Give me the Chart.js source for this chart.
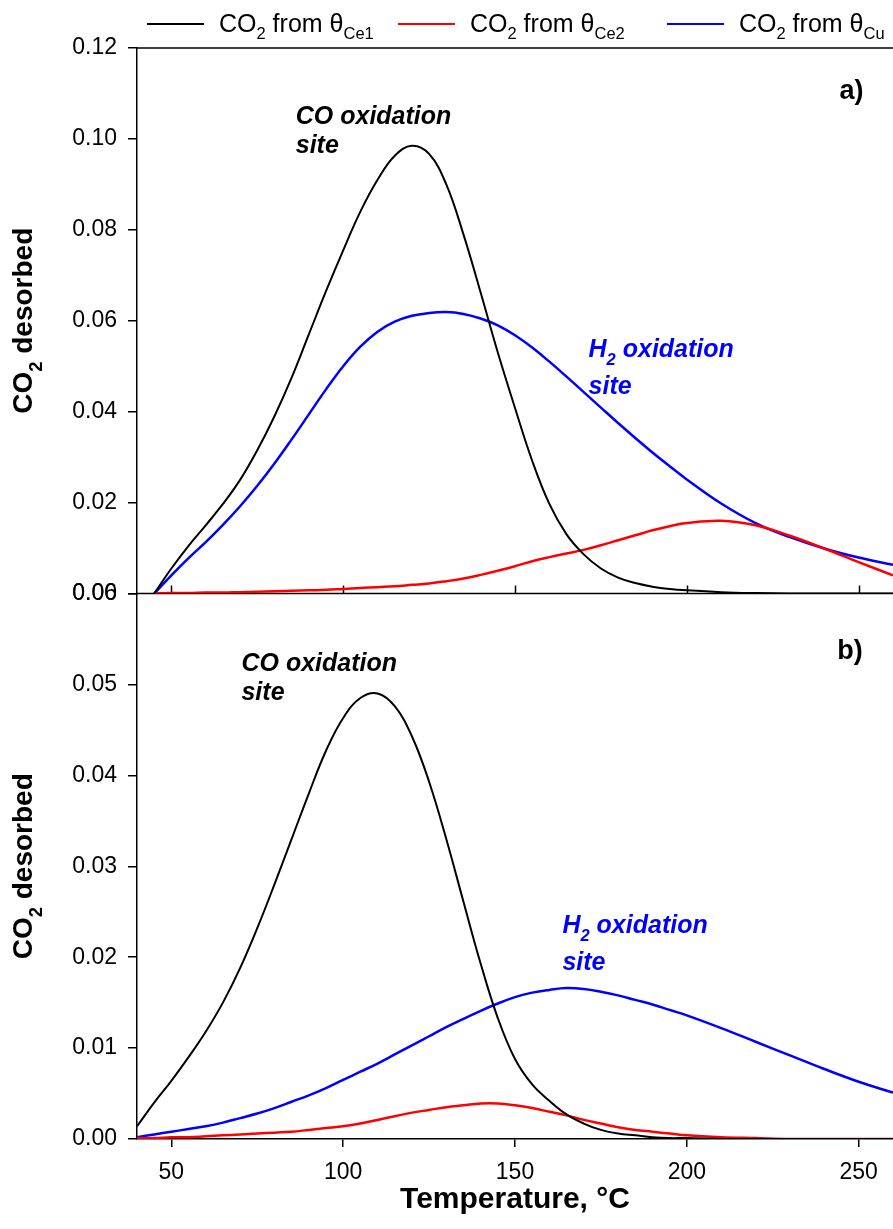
<!DOCTYPE html>
<html>
<head>
<meta charset="utf-8">
<title>CO2 desorption</title>
<script src="https://cdn.jsdelivr.net/npm/chart.js@4/dist/chart.umd.min.js"></script>
<style>
  html, body { margin: 0; padding: 0; background: #fff; }
  #wrap { width: 893px; height: 1229px; overflow: hidden; }
</style>
</head>
<body>
<div id="wrap"><canvas id="tpd" width="893" height="1229"></canvas></div>
<script>
// temperature grid, °C
const temps = [40, 45, 50, 55, 60, 65, 70, 75, 80, 85, 90, 95, 100, 105, 110, 115, 120, 125, 130, 135,
  140, 145, 150, 155, 160, 165, 170, 175, 180, 185, 190, 195, 200, 210, 220, 230, 240, 250, 260];

// panel a)
const ce1A = [null, 0, 0.0055, 0.0105, 0.0150, 0.0197, 0.0250, 0.0315, 0.0390, 0.0475, 0.0570, 0.0665, 0.0755,
  0.0840, 0.0910, 0.0963, 0.0985, 0.0967, 0.0900, 0.0790, 0.0662, 0.0530, 0.0408, 0.0292, 0.0197, 0.0130,
  0.0086, 0.0055, 0.0035, 0.0023, 0.0015, 0.0010, 0.0007, 0.0003, 0.0001, 0, 0, 0, 0];
const ce2A = [null, 0, 0.0001, 0.0001, 0.0002, 0.0002, 0.0003, 0.0004, 0.0005, 0.0006, 0.0007, 0.0008, 0.0010,
  0.0012, 0.0014, 0.0016, 0.0019, 0.0022, 0.0027, 0.0033, 0.0041, 0.0050, 0.0060, 0.0071, 0.0080, 0.0088,
  0.0096, 0.0106, 0.0117, 0.0128, 0.0139, 0.0148, 0.0155, 0.0160, 0.0150, 0.0127, 0.0099, 0.0069, 0.0040];
const cuA = [null, 0, 0.0040, 0.0078, 0.0113, 0.0151, 0.0192, 0.0237, 0.0286, 0.0339, 0.0394, 0.0449, 0.0500,
  0.0543, 0.0576, 0.0598, 0.0611, 0.0617, 0.0619, 0.0615, 0.0605, 0.0590, 0.0568, 0.0541, 0.0510, 0.0477,
  0.0443, 0.0409, 0.0375, 0.0342, 0.0310, 0.0280, 0.0251, 0.0198, 0.0155, 0.0124, 0.0099, 0.0079, 0.0063];

// panel b)
const ce1B = [0.0014, 0.0040, 0.0064, 0.0090, 0.0118, 0.0150, 0.0188, 0.0232, 0.0280, 0.0330, 0.0380, 0.0427,
  0.0463, 0.0485, 0.0490, 0.0476, 0.0443, 0.0393, 0.0330, 0.0261, 0.0193, 0.0133, 0.0088, 0.0060, 0.0042,
  0.0027, 0.0017, 0.0010, 0.0006, 0.0004, 0.0002, 0.0001, 0.0001, 0, 0, 0, 0, 0, 0];
const ce2B = [0.0001, 0.0001, 0.0002, 0.0002, 0.0003, 0.0004, 0.0005, 0.0006, 0.0007, 0.0008, 0.0010, 0.0012,
  0.0014, 0.0017, 0.0021, 0.0025, 0.0029, 0.0032, 0.0035, 0.0037, 0.0039, 0.0039, 0.0037, 0.0034, 0.0030,
  0.0026, 0.0021, 0.0017, 0.0013, 0.0010, 0.0008, 0.0006, 0.0004, 0.0002, 0.0001, 0, 0, 0, 0];
const cuB = [0.0002, 0.0005, 0.0008, 0.0011, 0.0014, 0.0018, 0.0023, 0.0028, 0.0034, 0.0041, 0.0048, 0.0056,
  0.0065, 0.0074, 0.0083, 0.0093, 0.0103, 0.0113, 0.0123, 0.0132, 0.0141, 0.0149, 0.0156, 0.0161, 0.0164,
  0.0166, 0.0165, 0.0162, 0.0158, 0.0153, 0.0148, 0.0142, 0.0136, 0.0122, 0.0107, 0.0092, 0.0077, 0.0063, 0.0051];

const siteNames = ['Ce1', 'Ce2', 'Cu'];
const xTicks = [50, 100, 150, 200, 250];
const yTicksA = [0, 0.02, 0.04, 0.06, 0.08, 0.10, 0.12];
const yTicksB = [0, 0.01, 0.02, 0.03, 0.04, 0.05, 0.06];

const FONT = '"Liberation Sans", Arial, Helvetica, sans-serif';
const colors = ['#000000', '#ff0000', '#0000ff'];

function points(ys) {
  return temps.map((t, i) => ({x: t, y: ys[i]})).filter(p => p.y !== null);
}

function line(ys, i, axis) {
  return {
    label: 'CO2 from ' + siteNames[i],
    data: points(ys),
    yAxisID: axis,
    borderColor: colors[i],
    borderWidth: i === 0 ? 2 : 2.5,
    pointRadius: 0,
    tension: 0.4,
    fill: false
  };
}

// text with subscripts: runs of [text, isSub]
function richWidth(ctx, runs, o) {
  let w = 0;
  runs.forEach(([t, sub]) => {
    ctx.font = `${o.style} ${sub ? o.size * 0.66 : o.size}px ${FONT}`;
    w += ctx.measureText(t).width;
  });
  return w;
}
function drawRich(ctx, runs, x, y, o) {
  ctx.fillStyle = o.color;
  ctx.textAlign = 'left';
  ctx.textBaseline = 'alphabetic';
  let cx = x;
  runs.forEach(([t, sub]) => {
    ctx.font = `${o.style} ${sub ? o.size * 0.66 : o.size}px ${FONT}`;
    ctx.fillText(t, cx, y + (sub ? o.size * (o.subDrop || 0.28) : 0));
    cx += ctx.measureText(t).width;
  });
}

const notes = [
  {axis: 'yA', x: 86.2, y: 0.1033, color: '#000', gap: 29, lines: [[['CO oxidation']], [['site']]]},
  {axis: 'yA', x: 171.4, y: 0.0521, color: '#0000ff', gap: 37, lines: [[['H'], ['2', true], [' oxidation']], [['site']]]},
  {axis: 'yB', x: 70.4, y: 0.0515, color: '#000', gap: 29, lines: [[['CO oxidation']], [['site']]]},
  {axis: 'yB', x: 163.8, y: 0.0227, color: '#0000ff', gap: 37, lines: [[['H'], ['2', true], [' oxidation']], [['site']]]}
];
const panelTags = [{axis: 'yA', x: 244.4, y: 0.1105, text: 'a)'}, {axis: 'yB', x: 243.8, y: 0.0536, text: 'b)'}];

const panels = {
  id: 'panels',
  beforeDatasetsDraw(chart) {
    const {ctx, chartArea: a, scales: {x, yA}} = chart;
    const yMid = yA.getPixelForValue(yA.min);
    const yTop = yA.getPixelForValue(yA.max);
    ctx.save();
    ctx.strokeStyle = '#000';
    ctx.lineWidth = 1.5;
    ctx.beginPath();
    ctx.moveTo(a.left, yTop);
    ctx.lineTo(a.right, yTop);
    ctx.moveTo(a.left, yMid);
    ctx.lineTo(a.right, yMid);
    xTicks.forEach(t => {
      const px = Math.round(x.getPixelForValue(t)) + 0.5;
      ctx.moveTo(px, yMid);
      ctx.lineTo(px, yMid - 8);
    });
    ctx.stroke();
    ctx.restore();
  },
  afterDraw(chart) {
    const {ctx, scales} = chart;
    ctx.save();

    // y titles
    const title = [['CO'], ['2', true], [' desorbed']];
    const tOpt = {style: 'bold', size: 28, color: '#000', subDrop: 0.34};
    ['yA', 'yB'].forEach(id => {
      const s = scales[id];
      const w = richWidth(ctx, title, tOpt);
      ctx.save();
      ctx.translate(32, (s.top + s.bottom) / 2);
      ctx.rotate(-Math.PI / 2);
      drawRich(ctx, title, -w / 2, 0, tOpt);
      ctx.restore();
    });

    // site labels
    notes.forEach(n => {
      const px = scales.x.getPixelForValue(n.x);
      const py = scales[n.axis].getPixelForValue(n.y);
      n.lines.forEach((runs, k) => {
        drawRich(ctx, runs, px, py + k * n.gap, {style: 'italic bold', size: 25, color: n.color, subDrop: 0.32});
      });
    });

    panelTags.forEach(p => {
      ctx.font = `bold 27px ${FONT}`;
      ctx.fillStyle = '#000';
      ctx.textAlign = 'left';
      ctx.textBaseline = 'middle';
      ctx.fillText(p.text, scales.x.getPixelForValue(p.x), scales[p.axis].getPixelForValue(p.y));
    });

    // legend across the top
    const legendX = [147, 398, 667];
    siteNames.forEach((name, i) => {
      const lx = legendX[i];
      ctx.strokeStyle = colors[i];
      ctx.lineWidth = 2;
      ctx.beginPath();
      ctx.moveTo(lx, 24);
      ctx.lineTo(lx + 57, 24);
      ctx.stroke();
      drawRich(ctx, [['CO'], ['2', true], [' from \u03b8'], [name, true]], lx + 72, 32,
        {style: 'normal', size: 25, color: '#000'});
    });
    ctx.restore();
  }
};

const yAxis = (ticks, max) => ({
  type: 'linear',
  position: 'left',
  stack: 'panels',
  stackWeight: 1,
  min: 0,
  max: max,
  afterBuildTicks: s => { s.ticks = ticks.map(v => ({value: v})); },
  afterFit: s => { s.width = 137; },
  border: {display: true, color: '#000', width: 1.5},
  grid: {drawOnChartArea: false, drawTicks: true, tickLength: 9, color: '#000', lineWidth: 1.5},
  ticks: {
    autoSkip: false,
    padding: 11,
    color: '#000',
    font: {family: FONT, size: 23},
    callback: v => v.toFixed(2)
  }
});

new Chart(document.getElementById('tpd'), {
  type: 'line',
  data: {
    datasets: [
      line(ce1A, 0, 'yA'), line(ce2A, 1, 'yA'), line(cuA, 2, 'yA'),
      line(ce1B, 0, 'yB'), line(ce2B, 1, 'yB'), line(cuB, 2, 'yB')
    ]
  },
  options: {
    responsive: false,
    animation: false,
    devicePixelRatio: 1,
    layout: {padding: {top: 48, left: 0, right: 0, bottom: 0}},
    plugins: {legend: {display: false}, tooltip: {enabled: false}},
    scales: {
      x: {
        type: 'linear',
        position: 'bottom',
        min: 40,
        max: 260,
        afterBuildTicks: s => { s.ticks = xTicks.map(v => ({value: v})); },
        afterFit: s => { s.height = 90; },
        border: {display: true, color: '#000', width: 1.5},
        grid: {drawOnChartArea: false, drawTicks: true, tickLength: 8, color: '#000', lineWidth: 1.5},
        ticks: {padding: 12, maxRotation: 0, color: '#000', font: {family: FONT, size: 23}},
        title: {
          display: true,
          text: 'Temperature, °C',
          color: '#000',
          font: {family: FONT, size: 30, weight: 'bold'},
          padding: {top: 0, bottom: 11}
        }
      },
      // left axes in a stack are laid out last-declared first, so panel b) is listed before a)
      yB: yAxis(yTicksB, 0.06),
      yA: yAxis(yTicksA, 0.12)
    }
  },
  plugins: [panels]
});
</script>
</body>
</html>
